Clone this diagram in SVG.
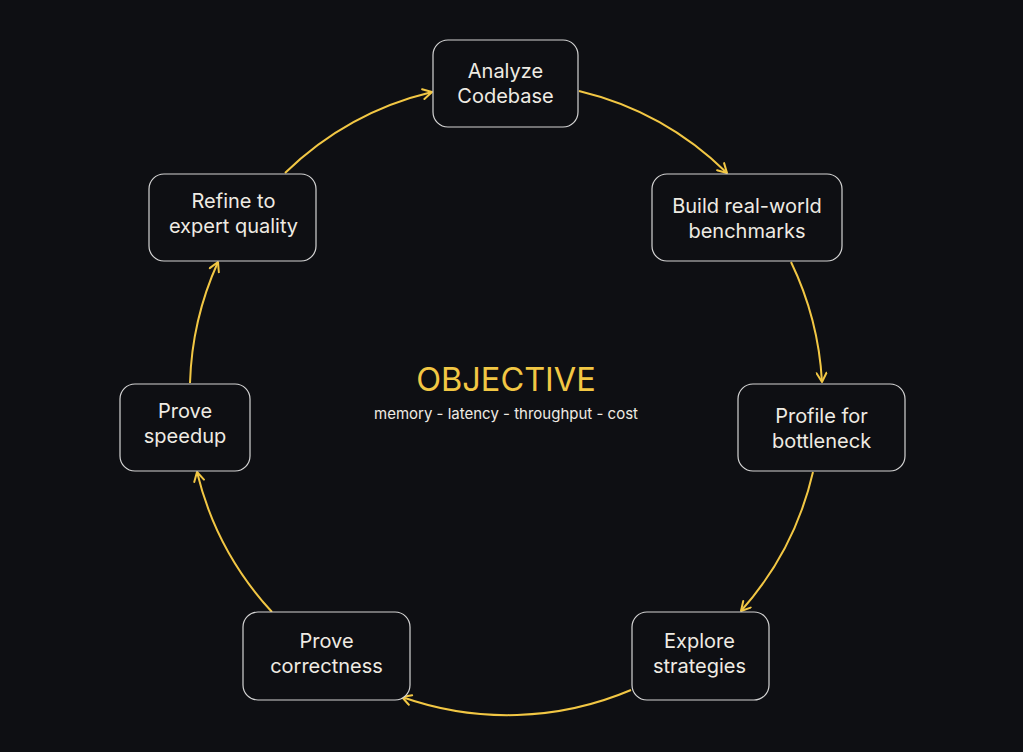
<svg xmlns="http://www.w3.org/2000/svg" width="1023" height="752" viewBox="0 0 1023 752">
<defs>
<marker id="ah" viewBox="0 0 12 12" refX="11" refY="6" markerWidth="12" markerHeight="12" markerUnits="userSpaceOnUse" orient="auto">
<polyline points="2,1 11,6 2,11" fill="none" stroke="#f2c744" stroke-width="2" stroke-linecap="round" stroke-linejoin="round"/>
</marker>
</defs>
<style>
.box{fill:#0e0f13;stroke:#d4d4d4;stroke-width:1.2}
.t{font-family:Inter,"Noto Sans",sans-serif;font-size:20px;fill:#efebe3;text-anchor:middle}
.c{fill:none;stroke:#f2c744;stroke-width:2;marker-end:url(#ah)}
</style>
<rect width="1023" height="752" fill="#0e0f13"/>
<g id="connectors">
<path class="c" d="M579,91 A316,316 0 0 1 727,173"/>
<path class="c" d="M791,262 A316,316 0 0 1 822,382"/>
<path class="c" d="M813,472 A316,316 0 0 1 741,611"/>
<path class="c" d="M631,690 A316,316 0 0 1 402,697"/>
<path class="c" d="M272,612 A316,316 0 0 1 197,472"/>
<path class="c" d="M190,383 A316,316 0 0 1 218,262"/>
<path class="c" d="M285,173 A316,316 0 0 1 432,92"/>
</g>
<g id="center">
<text x="506" y="391" style="font-family:Inter,'Noto Sans',sans-serif;font-size:32.5px;fill:#f2c744;text-anchor:middle">OBJECTIVE</text>
<text x="506" y="419" style="font-family:Inter,'Noto Sans',sans-serif;font-size:15px;fill:#efebe3;text-anchor:middle">memory - latency - throughput - cost</text>
</g>
<g id="n1"><rect class="box" x="433" y="40" width="145" height="87" rx="15"/><text class="t" x="505.5" y="78">Analyze</text><text class="t" x="505.5" y="103">Codebase</text></g>
<g id="n2"><rect class="box" x="652" y="174" width="190" height="87" rx="15"/><text class="t" x="747" y="213">Build real-world</text><text class="t" x="747" y="238">benchmarks</text></g>
<g id="n3"><rect class="box" x="738" y="384" width="167" height="87" rx="15"/><text class="t" x="821.5" y="423">Profile for</text><text class="t" x="821.5" y="448">bottleneck</text></g>
<g id="n4"><rect class="box" x="632" y="612" width="137" height="88" rx="15"/><text class="t" x="699.5" y="648">Explore</text><text class="t" x="699.5" y="673">strategies</text></g>
<g id="n5"><rect class="box" x="243" y="612" width="167" height="88" rx="15"/><text class="t" x="326.5" y="648">Prove</text><text class="t" x="326.5" y="673">correctness</text></g>
<g id="n6"><rect class="box" x="120" y="384" width="130" height="87" rx="15"/><text class="t" x="185" y="418">Prove</text><text class="t" x="185" y="443">speedup</text></g>
<g id="n7"><rect class="box" x="149" y="174" width="167" height="87" rx="15"/><text class="t" x="233.5" y="208">Refine to</text><text class="t" x="233.5" y="233">expert quality</text></g>
</svg>
